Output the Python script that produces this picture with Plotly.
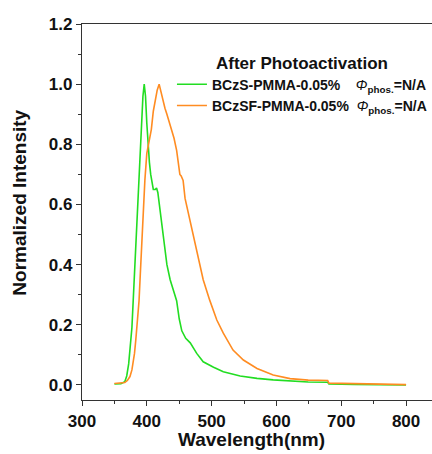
import plotly.graph_objects as go

# Photoluminescence spectra after photoactivation (normalized)
wl_bczs = [350, 360, 366, 369, 372, 374, 377, 379, 381, 383, 386, 389, 392, 394,
           396, 398, 400, 402, 404, 406, 408, 410, 413, 415, 417, 420, 423, 426,
           431, 436, 441, 446, 450, 454, 460, 467, 477, 487, 503, 518, 544, 570,
           595, 621, 649, 679, 681, 720, 760, 800]
int_bczs = [0.003, 0.004, 0.011, 0.030, 0.070, 0.116, 0.190, 0.280, 0.370, 0.460,
            0.620, 0.760, 0.880, 0.960, 1.000, 0.960, 0.870, 0.790, 0.740, 0.700,
            0.670, 0.650, 0.650, 0.655, 0.640, 0.590, 0.540, 0.480, 0.400, 0.350,
            0.315, 0.280, 0.220, 0.180, 0.155, 0.140, 0.105, 0.077, 0.059, 0.044,
            0.030, 0.022, 0.017, 0.013, 0.010, 0.009, 0.003, 0.002, 0.001, 0.000]

wl_bczsf = [350, 360, 366, 370, 374, 377, 379, 381, 383, 386, 388, 390, 392, 395,
            397, 400, 403, 405, 407, 410, 413, 416, 419, 422, 425, 428, 431, 435,
            438, 442, 446, 449, 451, 453, 456, 459, 463, 469, 473, 477, 482, 487,
            497, 508, 518, 533, 549, 570, 595, 621, 649, 679, 681, 720, 760, 800]
int_bczsf = [0.005, 0.006, 0.008, 0.015, 0.028, 0.050, 0.072, 0.105, 0.150, 0.216,
             0.280, 0.370, 0.470, 0.610, 0.680, 0.770, 0.800, 0.820, 0.850, 0.910,
             0.950, 0.980, 1.000, 0.970, 0.940, 0.920, 0.900, 0.870, 0.850, 0.820,
             0.780, 0.740, 0.700, 0.695, 0.680, 0.620, 0.580, 0.530, 0.490, 0.450,
             0.400, 0.350, 0.282, 0.216, 0.172, 0.116, 0.083, 0.055, 0.033, 0.021,
             0.016, 0.015, 0.006, 0.004, 0.002, 0.001]

phi = '<span style="font-weight:normal"><i>Φ</i></span><sub>phos.</sub>=N/A'
name_bczs = "BCzS-PMMA-0.05%&nbsp;&nbsp;&nbsp;&nbsp;" + phi
name_bczsf = "BCzSF-PMMA-0.05%&nbsp;&nbsp;" + phi

FONT = "Liberation Sans, Arial, sans-serif"
INK = "#111111"

fig = go.Figure()
fig.add_trace(go.Scatter(x=wl_bczs, y=int_bczs, mode="lines", name=name_bczs,
                         line=dict(color="#22dd22", width=1.6)))
fig.add_trace(go.Scatter(x=wl_bczsf, y=int_bczsf, mode="lines", name=name_bczsf,
                         line=dict(color="#ff8c22", width=1.6)))

axis_common = dict(
    showline=True, linecolor="#333333", linewidth=1.3,
    ticks="outside", ticklen=5, tickwidth=1.3, tickcolor="#333333",
    showgrid=False, zeroline=False,
    tickfont=dict(family=FONT, size=17, color=INK, weight="bold"),
)

fig.update_layout(
    width=432, height=454,
    margin=dict(l=82, r=0, t=24, b=54),
    paper_bgcolor="white", plot_bgcolor="white",
    xaxis=dict(range=[300, 840], dtick=100, mirror=True,
               minor=dict(dtick=50, ticks="outside", ticklen=3, tickcolor="#333333"),
               **axis_common),
    yaxis=dict(range=[-0.05, 1.2], dtick=0.2, tickformat=".1f",
               minor=dict(dtick=0.1, ticks="outside", ticklen=3, tickcolor="#333333"),
               **axis_common),
    legend=dict(
        x=0.257, y=0.94, xanchor="left", yanchor="top",
        bgcolor="rgba(0,0,0,0)",
        font=dict(family=FONT, size=14, color=INK, weight="bold"),
        title=dict(text="After Photoactivation", side="top center",
                   font=dict(family=FONT, size=17, color=INK, weight="bold")),
        tracegroupgap=0,
    ),
    annotations=[
        dict(text="Wavelength(nm)", xref="paper", yref="paper",
             x=0.484, y=-0.105, xanchor="center", yanchor="middle", showarrow=False,
             font=dict(family=FONT, size=19, color=INK, weight="bold")),
        dict(text="Normalized Intensity", xref="paper", yref="paper",
             x=-0.178, y=0.524, xanchor="center", yanchor="middle", showarrow=False,
             textangle=-90,
             font=dict(family=FONT, size=19, color=INK, weight="bold")),
    ],
)

fig.write_html("out.html")
